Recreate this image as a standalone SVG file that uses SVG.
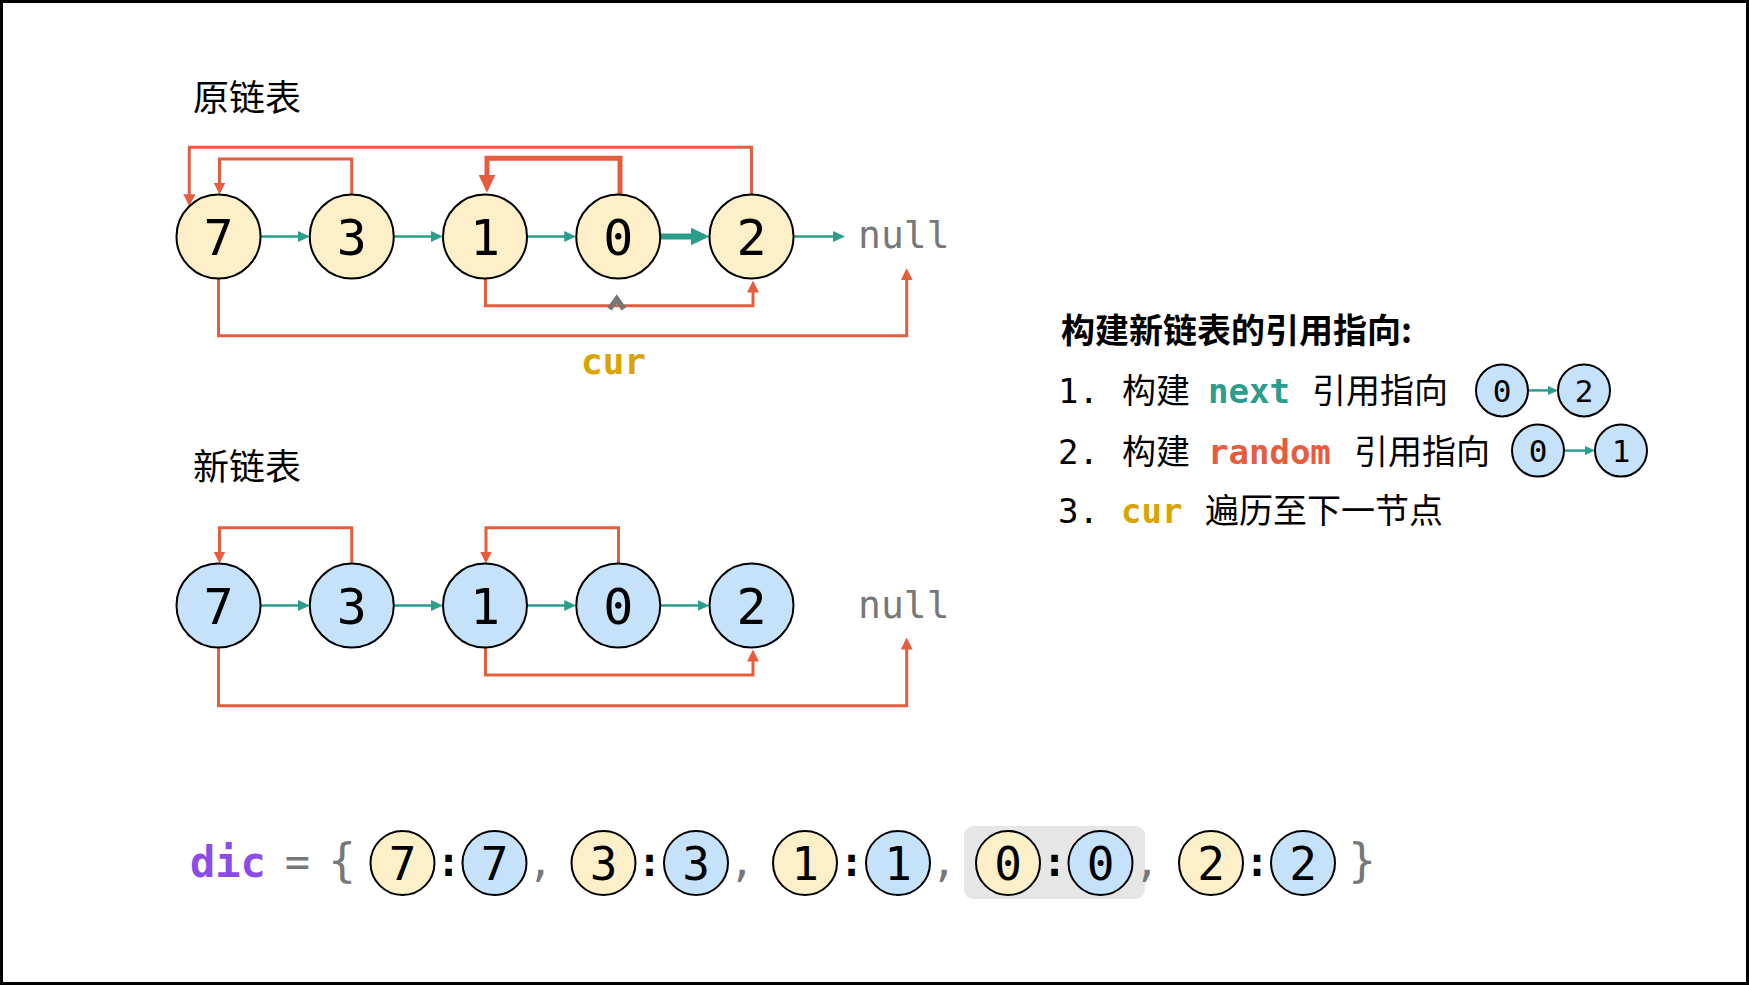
<svg xmlns="http://www.w3.org/2000/svg" width="1749" height="985" viewBox="0 0 1749 985">
<style>
.frame{fill:#fff;stroke:#000;stroke-width:3}
.ny{fill:#fdf0c8;stroke:#000;stroke-width:2}
.nb{fill:#c6e2fb;stroke:#000;stroke-width:2}
.dg{font-family:"DejaVu Sans Mono","Liberation Mono",monospace;font-size:50px;fill:#000;text-anchor:middle}
.dd{font-family:"DejaVu Sans Mono","Liberation Mono",monospace;font-size:46px;fill:#000;text-anchor:middle}
.ds{font-family:"DejaVu Sans Mono","Liberation Mono",monospace;font-size:31px;fill:#000;text-anchor:middle}
.mono{font-family:"DejaVu Sans Mono","Liberation Mono",monospace}
.cjk{font-family:"Noto Sans CJK SC","Noto Sans",sans-serif}
.null{font-family:"DejaVu Sans Mono","Liberation Mono",monospace;font-size:38px;fill:#777}
.next{stroke:#2a9d8c;stroke-width:2.5;fill:none}
.rand{stroke:#e65c3f;stroke-width:3;fill:none}
.thick-next{stroke-width:6}
.thick-rand{stroke-width:5}
.gray{fill:#777}
</style>
<defs>
<marker id="ta" markerUnits="userSpaceOnUse" markerWidth="12" markerHeight="11" refX="2" refY="5.5" orient="auto"><path d="M0,0 L12,5.5 L0,11 z" fill="#2a9d8c"/></marker>
<marker id="tb" markerUnits="userSpaceOnUse" markerWidth="19" markerHeight="18" refX="3" refY="9" orient="auto"><path d="M0,0 L19,9 L0,18 z" fill="#2a9d8c"/></marker>
<marker id="ts" markerUnits="userSpaceOnUse" markerWidth="10" markerHeight="9" refX="2" refY="4.5" orient="auto"><path d="M0,0 L10,4.5 L0,9 z" fill="#2a9d8c"/></marker>
<marker id="ra" markerUnits="userSpaceOnUse" markerWidth="12" markerHeight="12" refX="2" refY="6" orient="auto"><path d="M0,0 L12,6 L0,12 z" fill="#e65c3f"/></marker>
<marker id="rb" markerUnits="userSpaceOnUse" markerWidth="18" markerHeight="17" refX="3" refY="8.5" orient="auto"><path d="M0,0 L18,8.5 L0,17 z" fill="#e65c3f"/></marker>
</defs>
<rect class="frame" x="1.5" y="1.5" width="1746" height="982"/>

<text class="cjk" x="193" y="111" font-size="36" fill="#000">原链表</text>
<text class="cjk" x="193" y="480" font-size="36" fill="#000">新链表</text>

<g id="connectors">
  <!-- row 1 next -->
  <path class="next" d="M260.5 236.5 H299.75" marker-end="url(#ta)"/>
  <path class="next" d="M393.75 236.5 H433" marker-end="url(#ta)"/>
  <path class="next" d="M527 236.5 H566.25" marker-end="url(#ta)"/>
  <path class="next thick-next" d="M660.25 236.5 H693.5" marker-end="url(#tb)"/>
  <path class="next" d="M793.5 236.5 H835" marker-end="url(#ta)"/>
  <!-- row 1 random -->
  <path class="rand" d="M218.5 278.5 V335.7 H906.7 V278.3" marker-end="url(#ra)"/>
  <path class="rand" d="M351.75 194.5 V159 H219.5 V184.5" marker-end="url(#ra)"/>
  <path class="rand" d="M485.5 278.5 V305.7 H753 V290.5" marker-end="url(#ra)"/>
  <path class="rand thick-rand" d="M620 194.5 V158.3 H487 V177.7" marker-end="url(#rb)"/>
  <path class="rand" d="M751.5 194.5 V147.3 H189.3 V196.3" marker-end="url(#ra)"/>
  <!-- row 2 next -->
  <path class="next" d="M260.5 605.5 H299.75" marker-end="url(#ta)"/>
  <path class="next" d="M393.75 605.5 H433" marker-end="url(#ta)"/>
  <path class="next" d="M527 605.5 H566.25" marker-end="url(#ta)"/>
  <path class="next" d="M660.25 605.5 H699.5" marker-end="url(#ta)"/>
  <!-- row 2 random -->
  <path class="rand" d="M218.5 647.5 V705.7 H906.7 V647.5" marker-end="url(#ra)"/>
  <path class="rand" d="M351.75 563.5 V527.7 H219.5 V553.5" marker-end="url(#ra)"/>
  <path class="rand" d="M618.5 563.5 V527.7 H486 V553.5" marker-end="url(#ra)"/>
  <path class="rand" d="M485.5 647.5 V675 H753 V659.5" marker-end="url(#ra)"/>
  <!-- legend arrows -->
  <path class="next" d="M1528 390.4 H1550" marker-end="url(#ts)"/>
  <path class="next" d="M1564 450.6 H1587" marker-end="url(#ts)"/>
</g>

<g id="orig-7"><circle class="ny" cx="218.5" cy="236.5" r="42"/><text class="dg" x="218.5" y="254.5">7</text></g>
<g id="orig-3"><circle class="ny" cx="351.75" cy="236.5" r="42"/><text class="dg" x="351.75" y="254.5">3</text></g>
<g id="orig-1"><circle class="ny" cx="485" cy="236.5" r="42"/><text class="dg" x="485" y="254.5">1</text></g>
<g id="orig-0"><circle class="ny" cx="618.25" cy="236.5" r="42"/><text class="dg" x="618.25" y="254.5">0</text></g>
<g id="orig-2"><circle class="ny" cx="751.5" cy="236.5" r="42"/><text class="dg" x="751.5" y="254.5">2</text></g>
<g id="orig-null"><text class="null" x="858" y="248.3">null</text></g>

<g id="cur-pointer">
  <polyline points="609.5,309 616.7,299 623.9,309" fill="none" stroke="#777" stroke-width="5.5" stroke-linejoin="miter"/>
  <text class="mono" x="581" y="374" font-size="36" font-weight="bold" fill="#d9a300">cur</text>
</g>

<g id="new-7"><circle class="nb" cx="218.5" cy="605.5" r="42"/><text class="dg" x="218.5" y="623.5">7</text></g>
<g id="new-3"><circle class="nb" cx="351.75" cy="605.5" r="42"/><text class="dg" x="351.75" y="623.5">3</text></g>
<g id="new-1"><circle class="nb" cx="485" cy="605.5" r="42"/><text class="dg" x="485" y="623.5">1</text></g>
<g id="new-0"><circle class="nb" cx="618.25" cy="605.5" r="42"/><text class="dg" x="618.25" y="623.5">0</text></g>
<g id="new-2"><circle class="nb" cx="751.5" cy="605.5" r="42"/><text class="dg" x="751.5" y="623.5">2</text></g>
<g id="new-null"><text class="null" x="858" y="617.5">null</text></g>

<g id="legend">
  <text class="cjk" x="1061" y="343" font-size="34" font-weight="bold" fill="#000">构建新链表的引用指向:</text>
  <text class="mono" x="1058" y="403" font-size="34" fill="#000">1.</text>
  <text class="cjk" x="1122" y="403" font-size="34" fill="#000">构建</text>
  <text class="mono" x="1208" y="403" font-size="34" font-weight="bold" fill="#2a9d8c">next</text>
  <text class="cjk" x="1312" y="403" font-size="34" fill="#000">引用指向</text>
  <text class="mono" x="1058" y="463.5" font-size="34" fill="#000">2.</text>
  <text class="cjk" x="1122" y="463.5" font-size="34" fill="#000">构建</text>
  <text class="mono" x="1208" y="463.5" font-size="34" font-weight="bold" fill="#e65c3f">random</text>
  <text class="cjk" x="1354" y="463.5" font-size="34" fill="#000">引用指向</text>
  <text class="mono" x="1058" y="522.5" font-size="34" fill="#000">3.</text>
  <text class="mono" x="1121" y="522.5" font-size="34" font-weight="bold" fill="#d9a300">cur</text>
  <text class="cjk" x="1205" y="522.5" font-size="34" fill="#000">遍历至下一节点</text>
</g>
<g id="legend-0a"><circle class="nb" cx="1502" cy="390.4" r="26"/><text class="ds" x="1502" y="401.6">0</text></g>
<g id="legend-2"><circle class="nb" cx="1584" cy="390.4" r="26"/><text class="ds" x="1584" y="401.6">2</text></g>
<g id="legend-0b"><circle class="nb" cx="1538" cy="450.6" r="26"/><text class="ds" x="1538" y="461.8">0</text></g>
<g id="legend-1"><circle class="nb" cx="1621" cy="450.6" r="26"/><text class="ds" x="1621" y="461.8">1</text></g>

<g id="dict">
  <rect x="964" y="826" width="181" height="73" rx="9" fill="#e6e6e6"/>
  <text class="mono" x="190" y="876.7" font-size="42" font-weight="bold" fill="#8b4ce8">dic</text>
  <text class="mono gray" x="297.5" y="876" font-size="42" text-anchor="middle">=</text>
  <text class="mono gray" x="342" y="876" font-size="46" text-anchor="middle">{</text>
  <text class="mono gray" x="1362" y="876" font-size="46" text-anchor="middle">}</text>
  <g id="dict-7"><circle class="ny" cx="402.5" cy="863" r="32"/><text class="dd" x="402.5" y="879.5">7</text><text class="mono" x="448.5" y="876" font-size="40" font-weight="bold" text-anchor="middle">:</text><circle class="nb" cx="494.5" cy="863" r="32"/><text class="dd" x="494.5" y="879.5">7</text><text class="mono gray" x="540.5" y="876" font-size="42" text-anchor="middle">,</text></g>
  <g id="dict-3"><circle class="ny" cx="603.5" cy="863" r="32"/><text class="dd" x="603.5" y="879.5">3</text><text class="mono" x="649.5" y="876" font-size="40" font-weight="bold" text-anchor="middle">:</text><circle class="nb" cx="696" cy="863" r="32"/><text class="dd" x="696" y="879.5">3</text><text class="mono gray" x="742" y="876" font-size="42" text-anchor="middle">,</text></g>
  <g id="dict-1"><circle class="ny" cx="805" cy="863" r="32"/><text class="dd" x="805" y="879.5">1</text><text class="mono" x="851.5" y="876" font-size="40" font-weight="bold" text-anchor="middle">:</text><circle class="nb" cx="898" cy="863" r="32"/><text class="dd" x="898" y="879.5">1</text><text class="mono gray" x="944" y="876" font-size="42" text-anchor="middle">,</text></g>
  <g id="dict-0"><circle class="ny" cx="1008" cy="863" r="32"/><text class="dd" x="1008" y="879.5">0</text><text class="mono" x="1054.5" y="876" font-size="40" font-weight="bold" text-anchor="middle">:</text><circle class="nb" cx="1100.5" cy="863" r="32"/><text class="dd" x="1100.5" y="879.5">0</text><text class="mono gray" x="1147" y="876" font-size="42" text-anchor="middle">,</text></g>
  <g id="dict-2"><circle class="ny" cx="1211" cy="863" r="32"/><text class="dd" x="1211" y="879.5">2</text><text class="mono" x="1257" y="876" font-size="40" font-weight="bold" text-anchor="middle">:</text><circle class="nb" cx="1303" cy="863" r="32"/><text class="dd" x="1303" y="879.5">2</text></g>
</g>
</svg>
